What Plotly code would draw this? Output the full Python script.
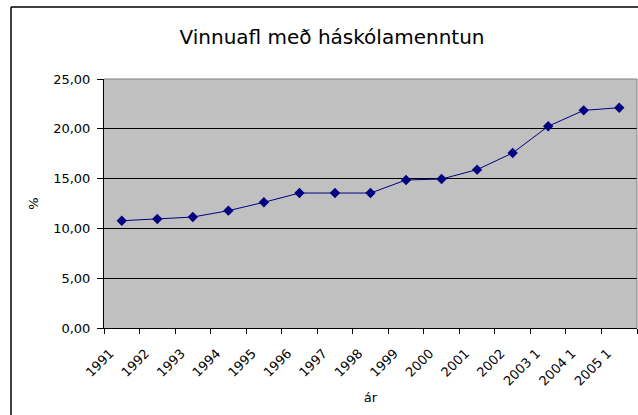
import plotly.graph_objects as go

# year labels and share of workforce with university education (%)
years = ["1991", "1992", "1993", "1994", "1995", "1996", "1997", "1998",
         "1999", "2000", "2001", "2002", "2003 1", "2004 1", "2005 1"]
share = [10.77, 10.94, 11.14, 11.78, 12.62, 13.55, 13.55, 13.55,
         14.86, 14.96, 15.90, 17.57, 20.25, 21.85, 22.12]
y_ticks = [0, 5, 10, 15, 20, 25]

font = "DejaVu Sans, Arial, sans-serif"

fig = go.Figure()
fig.add_trace(go.Scatter(
    x=years, y=share, mode="lines+markers",
    line=dict(color="#000080", width=1),
    marker=dict(symbol="diamond", size=8, color="#000080"),
))

# plot area pixel frame: left 104, right 637, top 79, bottom 328
W, H = 638, 415
L, R, T, B = 104, 1, 79, 87
pw, ph = W - L - R, H - T - B

# rotated labels sit a bit further out along their own direction in the original
pad = "\u00a0" * 4

fig.update_layout(
    width=W, height=H,
    margin=dict(l=L, r=R, t=T, b=B),
    paper_bgcolor="white",
    plot_bgcolor="#C0C0C0",
    separators=", ",
    showlegend=False,
    font=dict(family=font, size=13, color="black"),
    title=dict(text="Vinnuafl með háskólamenntun", x=332 / W, xanchor="center",
               xref="container", y=1 - 37 / H, yanchor="middle", yref="container",
               font=dict(size=20, color="black")),
    xaxis=dict(type="category", range=[-0.5, len(years) - 0.5],
               tickvals=years, ticktext=[y + pad for y in years],
               showgrid=False, showline=True, linecolor="black", linewidth=1,
               ticks="outside", tickson="boundaries", ticklen=5, tickcolor="black",
               tickangle=-45, tickfont=dict(size=13),
               title=dict(text="ár", font=dict(size=13), standoff=5)),
    yaxis=dict(range=[0, 25], tickvals=y_ticks, tickformat=".2f",
               showgrid=True, gridcolor="black", gridwidth=1,
               showline=True, linecolor="black", linewidth=1,
               ticks="outside", ticklen=6, tickcolor="black", ticklabelstandoff=4,
               zeroline=False, tickfont=dict(size=13),
               title=dict(text="%", font=dict(size=13), standoff=11)),
)

# gray top/right edge of plot area
fig.add_shape(type="line", xref="paper", yref="paper", x0=0, x1=1, y0=1, y1=1,
              line=dict(color="#808080", width=1), layer="above")
fig.add_shape(type="line", xref="paper", yref="paper", x0=1, x1=1, y0=0, y1=1,
              line=dict(color="#808080", width=1), layer="above")

# outer chart border (left and top, the rest is cropped)
bx = (11 - L) / pw
by = 1 + (T - 7) / ph
fig.add_shape(type="line", xref="paper", yref="paper", x0=bx, x1=bx, y0=-2, y1=by,
              line=dict(color="black", width=1.5))
fig.add_shape(type="line", xref="paper", yref="paper", x0=bx, x1=2, y0=by, y1=by,
              line=dict(color="black", width=1.5))

# drop the default page margin so the figure sits at the window's corner
fig.write_html("out.html", config={"displayModeBar": False},
               post_script="document.body.style.margin='0';")
